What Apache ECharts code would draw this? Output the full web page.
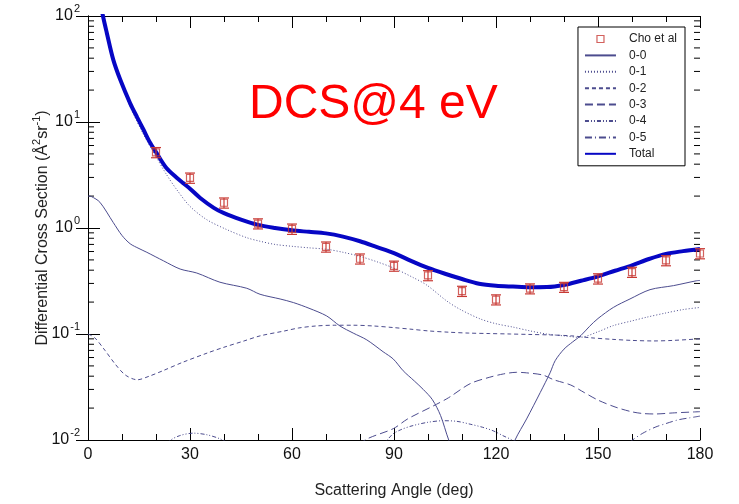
<!DOCTYPE html>
<html>
<head>
<meta charset="utf-8">
<title>DCS@4 eV</title>
<script src="https://cdn.jsdelivr.net/npm/echarts@6/dist/echarts.min.js"></script>
<style>
  html, body { margin: 0; padding: 0; background: #fff; }
  #chart { width: 739px; height: 504px; }
</style>
</head>
<body>
<div id="chart"></div>
<script>
// Measured differential cross sections (Cho et al), angle in degrees, DCS in Å² sr⁻¹
const choAngle = [20, 30, 40, 50, 60, 70, 80, 90, 100, 110, 120, 130, 140, 150, 160, 170, 180];
const choDcs   = [5.17, 2.97, 1.73, 1.10, 0.98, 0.665, 0.513, 0.439, 0.357, 0.254, 0.211, 0.268, 0.277, 0.333, 0.384, 0.494, 0.575];
const choErr   = [0.57, 0.33, 0.19, 0.12, 0.11, 0.073, 0.056, 0.048, 0.039, 0.028, 0.023, 0.029, 0.030, 0.037, 0.042, 0.054, 0.063];

// Calculated partial cross sections [angle, DCS]
const dcs00 = [[0,2.0],[1,1.98],[3.5,1.75],[7.4,1.13],[10,0.85],[12.4,0.71],[15,0.64],[17.3,0.59],[22.2,0.49],[27.1,0.41],[32,0.376],[38.8,0.308],[46.7,0.27],[50.6,0.237],[56.5,0.214],[60.4,0.198],[65,0.175],[70.2,0.148],[74.1,0.119],[78,0.102],[82,0.088],[86.8,0.068],[89.8,0.058],[92.7,0.045],[96,0.036],[98.6,0.030],[101.3,0.024],[103.7,0.017],[106.1,0.01],[110,0.005],[116,0.003],[122,0.005],[125.6,0.01],[129,0.0158],[133,0.028],[135.9,0.043],[137.4,0.056],[140,0.072],[142.5,0.084],[145,0.097],[147.5,0.118],[150,0.14],[154.5,0.178],[159.4,0.214],[165.3,0.262],[172.2,0.286],[179,0.318],[180,0.32]];
const dcs01 = [[3,160],[4.4,95],[7.4,37],[12.4,14],[16,8.0],[19.7,4.9],[23.1,3.19],[26.1,2.3],[30,1.6],[34.9,1.2],[40.7,0.97],[46.7,0.81],[50.6,0.75],[55,0.70],[60.4,0.67],[65,0.65],[70.2,0.63],[75,0.59],[80,0.54],[85,0.48],[89.8,0.42],[95.7,0.34],[99.6,0.29],[105.5,0.205],[109.4,0.171],[115.3,0.139],[120,0.125],[125.1,0.116],[130,0.107],[134.9,0.1],[140,0.096],[144.7,0.093],[150,0.105],[154.5,0.12],[160,0.133],[164.3,0.144],[170,0.158],[175,0.17],[180,0.178]];
const dcs02 = [[0,0.1],[2,0.092],[5,0.07],[8,0.052],[11,0.041],[14.5,0.037],[18,0.04],[22,0.045],[27.8,0.054],[35,0.066],[40,0.075],[45.9,0.086],[50.6,0.096],[57.9,0.107],[62,0.114],[67,0.119],[72.4,0.121],[78,0.121],[84,0.119],[89.8,0.115],[95,0.111],[100,0.107],[106.1,0.104],[112,0.102],[118,0.101],[124.2,0.1],[130,0.099],[136,0.098],[142.3,0.096],[148,0.092],[154.4,0.089],[160,0.087],[166.4,0.086],[172,0.087],[180,0.09]];
const dcs03 = [[60,0.003],[70,0.005],[77,0.0078],[82,0.0102],[89.8,0.0128],[94,0.0158],[101.6,0.021],[106,0.025],[112.4,0.034],[118,0.039],[122.2,0.042],[126,0.0435],[129,0.043],[133.8,0.041],[137,0.037],[142,0.033],[146,0.028],[150,0.0238],[155,0.0205],[159.8,0.0185],[163,0.0178],[166.8,0.0176],[172,0.018],[180,0.0185]];
const dcs04 = [[15,0.004],[20,0.007],[24,0.0098],[27,0.011],[31,0.0116],[35,0.0112],[39,0.0102],[42,0.009],[50,0.005],[60,0.0035],[70,0.0035],[80,0.0045],[85,0.0075],[89.4,0.0112],[92,0.0125],[95.3,0.0136],[100,0.0147],[104.5,0.0152],[108.5,0.015],[112.4,0.0141],[116,0.0132],[119.2,0.0122],[122,0.011],[125.1,0.0098],[130,0.007],[140,0.004]];
const dcs05 = [[140,0.003],[150,0.005],[156,0.0078],[159.8,0.0098],[163,0.0115],[166.8,0.0132],[170,0.0143],[173.6,0.0155],[177,0.0162],[180,0.0168]];
const dcsTotal = [[3,170],[4.4,100],[5.5,70],[7.4,39],[9.5,25],[12.4,15],[14.5,11],[16.3,8.5],[18,6.6],[20,5.2],[23,3.7],[26,3.0],[28,2.65],[30,2.35],[33,1.92],[37,1.55],[40,1.38],[45,1.2],[50,1.07],[55,1.0],[60,0.95],[65,0.92],[70,0.89],[75,0.83],[80,0.75],[85,0.66],[90,0.58],[95,0.49],[100,0.42],[105,0.37],[110,0.33],[115,0.298],[120,0.285],[125,0.28],[130,0.276],[135,0.277],[140,0.29],[145,0.318],[150,0.35],[155,0.395],[160,0.445],[165,0.51],[170,0.57],[175,0.605],[180,0.635]];

// Log-axis minor tick positions (2..9 within each decade)
const minorMantissas = [2, 3, 4, 5, 6, 7, 8, 9];
const minorDecades = [0.01, 0.1, 1, 10];

const FONT = 'Liberation Sans, Arial, Helvetica, sans-serif';
const THIN = '#4c4c8e';
const RED = '#c83a34';
const X_MIN = 0, X_MAX = 180;

const minorTickValues = [];
minorDecades.forEach(d => minorMantissas.forEach(m => minorTickValues.push([X_MIN, +(m * d).toPrecision(3)])));

const choPoints = choAngle.map((a, i) => [a, choDcs[i]]);
const choBars = choAngle.map((a, i) => [a, choDcs[i], choErr[i]]);

const chart = echarts.init(document.getElementById('chart'), null, { renderer: 'canvas' });

const xAxisBase = {
  type: 'value', min: X_MIN, max: X_MAX, interval: 30,
  axisLine: { show: true, lineStyle: { color: '#000', width: 1 } },
  axisTick: { show: true, inside: true, length: 12, lineStyle: { color: '#000' } },
  minorTick: { show: true, splitNumber: 3, length: 6, lineStyle: { color: '#000' } },
  splitLine: { show: false }
};
const yAxisBase = {
  type: 'log', logBase: 10, min: 0.01, max: 100,
  axisLine: { show: true, lineStyle: { color: '#000', width: 1 } },
  axisTick: { show: true, inside: true, length: 12, lineStyle: { color: '#000' } },
  minorTick: { show: false },
  splitLine: { show: false }
};

const lineSeries = (name, data, type, width, color) => ({
  name, type: 'line', data, showSymbol: false, symbol: 'none',
  smooth: 0.3, clip: true, silent: true,
  lineStyle: { color, width, type },
  itemStyle: { color },
  z: 3
});

// legend entries for curves show only the line sample, no marker
const lineLegend = name => ({ name, itemStyle: { opacity: 0, color: 'rgba(0,0,0,0)', borderWidth: 0 } });

chart.setOption({
  animation: false,
  backgroundColor: '#fff',
  title: {
    text: 'DCS@4 eV', left: 249, top: 81, padding: 0,
    textStyle: { color: '#ff0000', fontSize: 48, fontWeight: 'normal', fontFamily: FONT }
  },
  grid: { left: 88, right: 39, top: 16, bottom: 63 },
  legend: {
    orient: 'vertical', right: 54, top: 27,
    itemWidth: 31, itemHeight: 10, itemGap: 4.4,
    padding: [6, 8, 6, 6],
    borderColor: '#000', borderWidth: 1, backgroundColor: '#fff',
    selectedMode: false,
    textStyle: { fontSize: 12, color: '#222', fontFamily: FONT, padding: [0, 0, 0, 8] },
    data: [
      { name: 'Cho et al', icon: 'path://M0 0M10 10M1.5 1.5H8.5V8.5H1.5Z', symbolKeepAspect: true,
        itemStyle: { color: 'rgba(255,255,255,0)', borderColor: RED, borderWidth: 1.2 } },
      lineLegend('0-0'), lineLegend('0-1'), lineLegend('0-2'), lineLegend('0-3'),
      lineLegend('0-4'), lineLegend('0-5'), lineLegend('Total')
    ]
  },
  xAxis: [
    Object.assign({}, xAxisBase, {
      position: 'bottom',
      name: 'Scattering Angle (deg)', nameLocation: 'middle', nameGap: 43, nameMoveOverlap: false,
      nameTextStyle: { fontSize: 16, color: '#222', fontFamily: FONT },
      axisLabel: { show: true, margin: 7, fontSize: 16, color: '#111', fontFamily: FONT }
    }),
    Object.assign({}, xAxisBase, { position: 'top', axisLabel: { show: false } })
  ],
  yAxis: [
    Object.assign({}, yAxisBase, {
      position: 'left',
      name: '{t|Differential Cross Section (Å}{s|2}{t|sr}{s|-1}{t|)}',
      nameLocation: 'middle', nameGap: 34, nameMoveOverlap: false,
      nameTextStyle: {
        color: '#222', fontFamily: FONT,
        rich: {
          t: { fontSize: 16, color: '#222', fontFamily: FONT },
          s: { fontSize: 11, color: '#222', fontFamily: FONT, padding: [0, 0, 12, 0] }
        }
      },
      axisLabel: {
        show: true, margin: 8,
        formatter: v => '{b|10}{e|' + Math.round(Math.log10(v)) + '}',
        rich: {
          b: { fontSize: 16, color: '#111', fontFamily: FONT },
          e: { fontSize: 11, color: '#111', fontFamily: FONT, padding: [0, 0, 14, 1] }
        }
      }
    }),
    Object.assign({}, yAxisBase, { position: 'right', axisLabel: { show: false } })
  ],
  series: [
    lineSeries('0-0', dcs00, 'solid', 1, THIN),
    lineSeries('0-1', dcs01, [1, 2], 1, THIN),
    lineSeries('0-2', dcs02, [4, 3], 1, THIN),
    lineSeries('0-3', dcs03, [8, 4], 1, THIN),
    lineSeries('0-4', dcs04, [4, 2, 1, 2, 1, 2], 1, THIN),
    lineSeries('0-5', dcs05, [7, 3, 1, 3], 1, THIN),
    Object.assign(lineSeries('Total', dcsTotal, 'solid', 4, '#0606c4'), { z: 4 }),
    {
      // error bars of the measured points
      type: 'custom', silent: true, z: 5,
      encode: { x: 0, y: 1 },
      data: choBars,
      renderItem: (params, api) => {
        const x = api.value(0), v = api.value(1), e = api.value(2);
        const lo = api.coord([x, v - e]);
        const hi = api.coord([x, v + e]);
        const w = 5;
        const st = { stroke: RED, lineWidth: 1.2 };
        return {
          type: 'group',
          children: [
            { type: 'line', shape: { x1: lo[0], y1: lo[1], x2: hi[0], y2: hi[1] }, style: st },
            { type: 'line', shape: { x1: lo[0] - w, y1: lo[1], x2: lo[0] + w, y2: lo[1] }, style: st },
            { type: 'line', shape: { x1: hi[0] - w, y1: hi[1], x2: hi[0] + w, y2: hi[1] }, style: st }
          ]
        };
      }
    },
    {
      name: 'Cho et al', type: 'scatter', data: choPoints, z: 6, silent: true, clip: false,
      symbol: 'rect', symbolSize: 7,
      itemStyle: { color: 'rgba(255,255,255,0)', borderColor: RED, borderWidth: 1.2 }
    },
    {
      // minor ticks of the logarithmic axes, on both left and right frame sides
      type: 'custom', silent: true, z: 2,
      encode: { x: 0, y: 1 },
      data: minorTickValues,
      renderItem: (params, api) => {
        const v = api.value(1);
        const l = api.coord([X_MIN, v]);
        const r = api.coord([X_MAX, v]);
        const st = { stroke: '#000', lineWidth: 1 };
        return {
          type: 'group',
          children: [
            { type: 'line', shape: { x1: l[0], y1: l[1], x2: l[0] + 6, y2: l[1] }, style: st },
            { type: 'line', shape: { x1: r[0] - 6, y1: r[1], x2: r[0], y2: r[1] }, style: st }
          ]
        };
      }
    }
  ]
});
</script>
</body>
</html>
